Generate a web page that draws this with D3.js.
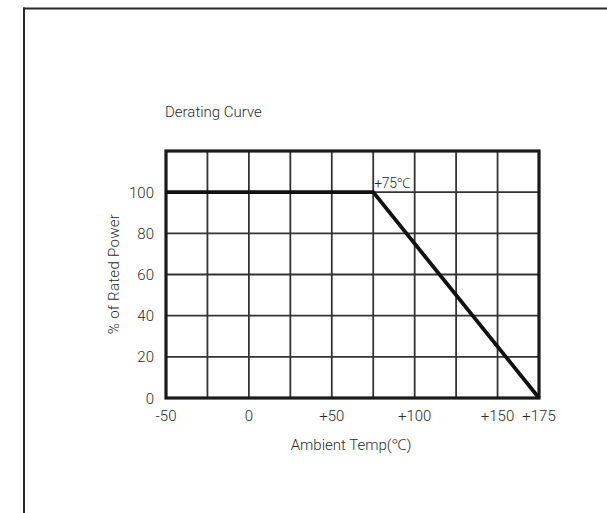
<!DOCTYPE html>
<html>
<head>
<meta charset="utf-8">
<script src="https://cdn.jsdelivr.net/npm/d3@7"></script>
<style>
  html, body { margin: 0; padding: 0; background: #fff; }
  svg { display: block; }
  text { font-family: Roboto, "Noto Sans", sans-serif; font-weight: 300; fill: #2b2b2b; }
</style>
</head>
<body>
<svg id="chart" width="607" height="513"></svg>
<script>
// derating curve: % of rated power vs ambient temperature
const temps = [-50, 75, 175];
const power = [100, 100, 0];
const xGrid = [-50, -25, 0, 25, 50, 75, 100, 125, 150, 175];
const yGrid = [0, 20, 40, 60, 80, 100, 120];
const xTicks = [-50, 0, 50, 100, 150, 175];
const xTickLabels = ['-50', '0', '+50', '+100', '+150', '+175'];
const yTicks = [0, 20, 40, 60, 80, 100];
const kneeLabel = '+75\u2103';

const svg = d3.select('#chart');
const m = { l: 166, r: 539, t: 151, b: 398 };

const x = d3.scaleLinear().domain([-50, 175]).range([m.l, m.r]);
const y = d3.scaleLinear().domain([0, 120]).range([m.b, m.t]);

// page frame (top + left edge only)
svg.append('line').attr('x1', 23).attr('x2', 607).attr('y1', 8.5).attr('y2', 8.5)
  .attr('stroke', '#2a2a2a').attr('stroke-width', 2);
svg.append('line').attr('x1', 24).attr('x2', 24).attr('y1', 7.5).attr('y2', 513)
  .attr('stroke', '#2a2a2a').attr('stroke-width', 2);

svg.append('text').attr('x', 165).attr('y', 117).attr('font-size', 15).text('Derating Curve');

// grid
const g = svg.append('g');
g.selectAll('line.vx').data(xGrid).join('line').attr('class', 'vx')
  .attr('x1', d => x(d)).attr('x2', d => x(d)).attr('y1', m.t).attr('y2', m.b)
  .attr('stroke', '#333').attr('stroke-width', 1.8);
g.selectAll('line.hy').data(yGrid).join('line').attr('class', 'hy')
  .attr('x1', m.l).attr('x2', m.r).attr('y1', d => y(d)).attr('y2', d => y(d))
  .attr('stroke', '#333').attr('stroke-width', 1.8);

// frame of the plot
g.append('rect').attr('x', m.l).attr('y', m.t).attr('width', m.r - m.l).attr('height', m.b - m.t)
  .attr('fill', 'none').attr('stroke', '#1a1a1a').attr('stroke-width', 3.2);

// curve
const line = d3.line().x(d => x(d[0])).y(d => y(d[1]));
svg.append('path').datum(temps.map((t, i) => [t, power[i]])).attr('d', line)
  .attr('fill', 'none').attr('stroke', '#111').attr('stroke-width', 3.8).attr('stroke-linejoin', 'miter');

svg.append('text').attr('x', x(temps[1]) + 1).attr('y', y(power[1]) - 4.5)
  .attr('font-size', 14).attr('letter-spacing', -0.3).text(kneeLabel);

// tick labels
svg.selectAll('text.xt').data(xTicks).join('text').attr('class', 'xt')
  .attr('x', d => x(d)).attr('y', 421).attr('text-anchor', 'middle').attr('font-size', 15)
  .text((d, i) => xTickLabels[i]);
svg.selectAll('text.yt').data(yTicks).join('text').attr('class', 'yt')
  .attr('x', 154).attr('y', d => y(d) + 5.5).attr('text-anchor', 'end').attr('font-size', 15)
  .text(d => d);

// axis titles
svg.append('text').attr('x', 351).attr('y', 450).attr('text-anchor', 'middle').attr('font-size', 15)
  .text('Ambient Temp(\u2103)');
svg.append('text').attr('transform', 'translate(119,274) rotate(-90)').attr('text-anchor', 'middle')
  .attr('font-size', 15).attr('letter-spacing', 0.3).text('% of Rated Power');
</script>
</body>
</html>
